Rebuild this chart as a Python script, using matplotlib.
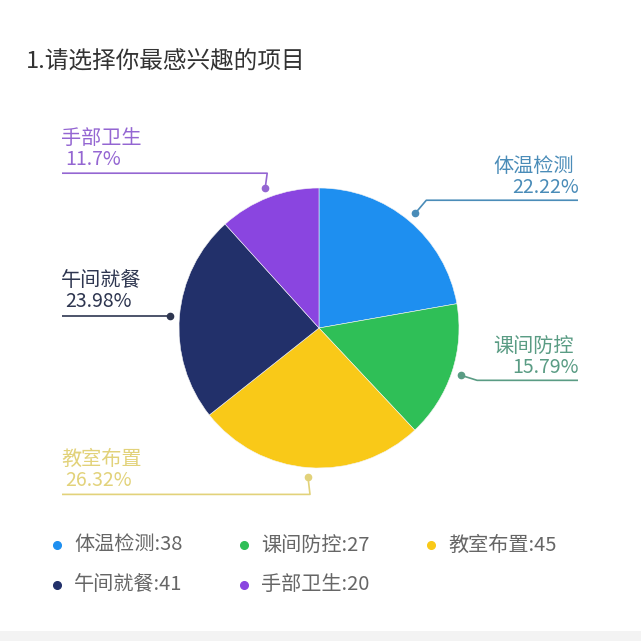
import numpy as np
import matplotlib.pyplot as plt
from matplotlib.patches import Rectangle

plt.rcParams['font.family'] = ['Noto Sans CJK SC', 'DejaVu Sans']

# donnees
titre = '1.请选择你最感兴趣的项目'
categories = ['体温检测', '课间防控', '教室布置', '午间就餐', '手部卫生']
valeurs = [38, 27, 45, 41, 20]
couleurs = ['#1e8ff0', '#2fbf57', '#f9c918', '#22306a', '#8a45e0']
couleurs_txt = ['#4a8cb8', '#5a9c84', '#e2d27a', '#2e3650', '#9466d2']

# figure en pixels (y vers le haut)
W = 641
fig = plt.figure(figsize=(6.41, 6.41), dpi=100)
ax = fig.add_axes([0, 0, 1, 1])

cx, cy, R = 319, W - 328, 140
wedges, _ = ax.pie(valeurs, colors=couleurs, startangle=90, counterclock=False,
                   center=(cx, cy), radius=R, frame=True,
                   wedgeprops=dict(linewidth=0.4, edgecolor='#f4f4f4'))
ax.set_xlim(0, W)
ax.set_ylim(0, W)
ax.set_aspect('equal')
ax.axis('off')

ax.text(26, W - 62, titre, fontsize=17, color='#333333', va='center', ha='left')

total = sum(valeurs)
# disposition des etiquettes : (cote, decalage vertical du trait, x du bout)
dispo = {0: ('d', 13, 578), 1: ('d', -5, 578), 2: ('g', -17, 62),
         3: ('g', 0, 62), 4: ('g', 15, 62)}
for i, w in enumerate(wedges):
    ang = np.deg2rad((w.theta1 + w.theta2) / 2)
    px = cx + R * 1.07 * np.cos(ang)
    py = cy + R * 1.07 * np.sin(ang)
    cote, dy, xb = dispo[i]
    yl = py + dy
    c = couleurs_txt[i]
    if i == 2 or i == 4:
        xe = px + 2
    elif i == 3:
        xe = px
    else:
        xe = px + (11 if i == 0 else 16)
    ax.plot([px, xe, xb], [py, yl, yl], color=c, lw=1.2, solid_capstyle='butt')
    ax.plot(px, py, 'o', color=c, ms=4.5)
    pct = f"{valeurs[i] / total * 100:.2f}".rstrip('0').rstrip('.') + '%'
    if cote == 'd':
        ax.text(xb - 4, yl + 34, categories[i], color=c, fontsize=14.5, ha='right', va='center')
        ax.text(xb + 1, yl + 13, pct, color=c, fontsize=14, ha='right', va='center')
    else:
        ax.text(xb - 1, yl + 35, categories[i], color=c, fontsize=14.5, ha='left', va='center')
        ax.text(xb + 3, yl + 14, pct, color=c, fontsize=14, ha='left', va='center')

# legende
for i, cat in enumerate(categories):
    lig, col = divmod(i, 3)
    x = 57 + col * 187
    y = W - (545 + lig * 40)
    ax.plot(x, y, 'o', color=couleurs[i], ms=5.5)
    ax.text(x + 17, y, f"{cat}:{valeurs[i]}", color='#666666', fontsize=14.5, ha='left', va='center')

ax.add_patch(Rectangle((0, 0), W, 10, facecolor='#f3f3f3', edgecolor='none'))

fig.savefig('out.png', dpi=100)
